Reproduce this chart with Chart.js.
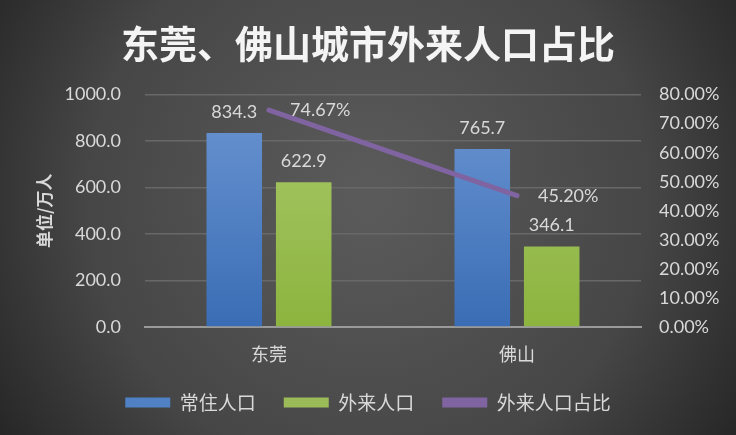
<!DOCTYPE html>
<html><head><meta charset="utf-8">
<script src="https://cdn.jsdelivr.net/npm/chart.js@4"></script>
<style>html,body{margin:0;padding:0;background:#3a3a3a}#wrap{width:736px;height:435px}</style>
</head><body><div id="wrap"><canvas id="c" width="736" height="435"></canvas></div>
<script>
const categories = ['东莞', '佛山'];
const residentPop = [834.3, 765.7];
const migrantPop = [622.9, 346.1];
const migrantShare = [74.67, 45.20];
const leftTicks = [0, 200, 400, 600, 800, 1000];
const rightTicks = [0, 10, 20, 30, 40, 50, 60, 70, 80];

const FONT = 'Lato, "Noto Sans CJK SC", sans-serif';
const CJK = '"Noto Sans CJK SC", sans-serif';
const TXT = '#d9d9d9';

const bgPlugin = {
  id: 'bg',
  beforeDraw(chart) {
    const {ctx, width, height} = chart;
    ctx.save();
    const g = ctx.createRadialGradient(width*0.5, height*0.45, 20, width*0.5, height*0.45, width*0.62);
    g.addColorStop(0, '#5a5a5a');
    g.addColorStop(0.6, '#464646');
    g.addColorStop(1, '#232323');
    ctx.fillStyle = g;
    ctx.fillRect(0, 0, width, height);
    ctx.restore();
  }
};

const labelPlugin = {
  id: 'vals',
  afterDatasetsDraw(chart) {
    const {ctx} = chart;
    ctx.save();
    ctx.font = '18px ' + FONT;
    ctx.fillStyle = TXT;
    chart.data.datasets.forEach((ds, i) => {
      const meta = chart.getDatasetMeta(i);
      meta.data.forEach((el, j) => {
        const v = ds.data[j];
        ctx.textBaseline = 'middle';
        if (ds.type === 'line') {
          ctx.textAlign = 'left';
          ctx.fillText(v.toFixed(2) + '%', el.x + 21, el.y);
        } else {
          ctx.textAlign = 'center';
          ctx.fillText(v.toFixed(1), el.x, el.y - 21);
        }
      });
    });
    ctx.restore();
  }
};

function barGrad(top, bottom) {
  return (c) => {
    const {chart} = c;
    const area = chart.chartArea;
    if (!area) return bottom;
    const g = chart.ctx.createLinearGradient(0, area.top, 0, area.bottom);
    g.addColorStop(0, top);
    g.addColorStop(1, bottom);
    return g;
  };
}

new Chart(document.getElementById('c'), {
  data: {
    labels: categories,
    datasets: [
      {type: 'line', label: '外来人口占比', data: migrantShare, yAxisID: 'y1',
       borderColor: '#8064a2', backgroundColor: '#8064a2', borderWidth: 5,
       borderCapStyle: 'round', pointRadius: 0, pointHoverRadius: 0, order: 0},
      {type: 'bar', label: '常住人口', data: residentPop, yAxisID: 'y',
       backgroundColor: barGrad('#6b95d2', '#3a6db5'), order: 1,
       categoryPercentage: 0.56, barPercentage: 0.8},
      {type: 'bar', label: '外来人口', data: migrantPop, yAxisID: 'y',
       backgroundColor: barGrad('#abc96d', '#8cb43e'), order: 1,
       categoryPercentage: 0.56, barPercentage: 0.8}
    ]
  },
  options: {
    responsive: false,
    animation: false,
    devicePixelRatio: 1,
    layout: {padding: {left: 0, right: 0, top: 0, bottom: 13}},
    plugins: {
      title: {display: true, text: '东莞、佛山城市外来人口占比', color: '#f4f4f4',
        font: {family: CJK, size: 38, weight: 'bold'}, padding: {top: 21, bottom: 28}},
      legend: {position: 'bottom',
        labels: {color: TXT, font: {family: CJK, size: 19}, boxWidth: 45, boxHeight: 10,
          padding: 28,
          generateLabels(chart) {
            const cols = ['#8064a2', '#4f81c4', '#9bbb59'];
            return [1, 2, 0].map(i => ({
              text: chart.data.datasets[i].label, fillStyle: cols[i], strokeStyle: cols[i], lineWidth: 0,
              fontColor: TXT, datasetIndex: i, hidden: false
            }));
          }
        }},
      tooltip: {enabled: false}
    },
    scales: {
      x: {grid: {display: false, drawTicks: false},
        border: {color: '#9a9a9a', width: 2},
        ticks: {color: TXT, font: {family: CJK, size: 18}, padding: 16},
        afterFit(s) { s.height = 38; }},
      y: {position: 'left', min: 0, max: 1000,
        afterBuildTicks(s) { s.ticks = leftTicks.map(v => ({value: v})); },
        grid: {color: '#686868', lineWidth: 1.5, drawTicks: false},
        border: {display: false},
        ticks: {color: TXT, font: {family: FONT, size: 18}, padding: 24,
          callback: v => Number(v).toFixed(1)},
        title: {display: true, text: '单位/万人', color: TXT,
          font: {family: CJK, size: 17, weight: 'bold'}, padding: {top: 34, bottom: 0}},
        afterFit(s) { s.width = 145; }},
      y1: {position: 'right', min: 0, max: 80,
        afterBuildTicks(s) { s.ticks = rightTicks.map(v => ({value: v})); },
        grid: {display: false, drawTicks: false},
        border: {display: false},
        ticks: {color: TXT, font: {family: FONT, size: 18}, padding: 18,
          callback: v => Number(v).toFixed(2) + '%'},
        afterFit(s) { s.width = 95; }}
    }
  },
  plugins: [bgPlugin, labelPlugin]
});
</script></body></html>
